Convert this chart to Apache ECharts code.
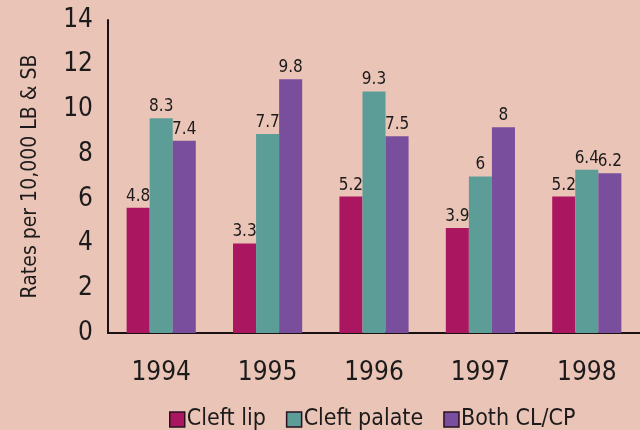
<!DOCTYPE html>
<html>
<head>
<meta charset="utf-8">
<script src="https://cdn.jsdelivr.net/npm/echarts@6/dist/echarts.min.js"></script>
<style>
html,body{margin:0;padding:0;background:#eac5b7;}
#c{width:640px;height:430px;}
</style>
</head>
<body>
<div id="c"></div>
<script>
// Categories
var years = ['1994', '1995', '1996', '1997', '1998'];
var seriesNames = ['Cleft lip', 'Cleft palate', 'Both CL/CP'];
// Printed value labels
var cleftLipLabels = [4.8, 3.3, 5.2, 3.9, 5.2];
var cleftPalateLabels = [8.3, 7.7, 9.3, 6, 6.4];
var bothLabels = [7.4, 9.8, 7.5, 8, 6.2];
// Bar heights as drawn against the axis in the picture
var cleftLipBars = [5.6, 4.0, 6.1, 4.7, 6.1];
var cleftPalateBars = [9.6, 8.9, 10.8, 7.0, 7.3];
var bothBars = [8.6, 11.35, 8.8, 9.2, 7.15];
// Axis ticks
var yMin = 0, yMax = 14, yStep = 2;

var colors = ['#aa1660', '#5d9d98', '#794f9d'];
var fontNarrow = '"Liberation Sans Narrow", "DejaVu Sans Condensed", sans-serif';
var textColor = '#1c1a1a';

function mkSeries(i, bars, labels) {
  return {
    name: seriesNames[i],
    type: 'bar',
    data: bars,
    barGap: '0%',
    barCategoryGap: '35%',
    itemStyle: { color: colors[i] },
    label: {
      show: true,
      position: 'top',
      distance: 3,
      color: textColor,
      fontFamily: fontNarrow,
      fontSize: 17,
      formatter: function (p) { return String(labels[p.dataIndex]); }
    }
  };
}

var chart = echarts.init(document.getElementById('c'), null, { renderer: 'canvas' });
chart.setOption({
  backgroundColor: '#eac5b7',
  animation: false,
  grid: { left: 108, right: 0, top: 20, bottom: 97, containLabel: false },
  legend: {
    left: 164,
    top: 403,
    itemWidth: 15,
    itemHeight: 15,
    itemGap: 20,
    selectedMode: false,
    textStyle: { color: textColor, fontFamily: fontNarrow, fontSize: 23, padding: [0, 0, 0, -3] },
    data: seriesNames.map(function (n, i) {
      return { name: n, icon: 'rect', itemStyle: { color: colors[i], borderColor: '#2a1020', borderWidth: 1.5 } };
    })
  },
  xAxis: {
    type: 'category',
    data: years,
    axisLine: { show: true, lineStyle: { color: '#1a1212', width: 2 } },
    axisTick: { show: false },
    axisLabel: { color: textColor, fontFamily: fontNarrow, fontSize: 26, margin: 27 }
  },
  yAxis: {
    type: 'value',
    min: yMin,
    max: yMax,
    interval: yStep,
    name: 'Rates per 10,000 LB & SB',
    nameLocation: 'middle',
    nameGap: 67,
    nameTextStyle: { color: textColor, fontFamily: fontNarrow, fontSize: 21 },
    axisLine: { show: true, lineStyle: { color: '#1a1212', width: 2 } },
    axisTick: { show: false },
    splitLine: { show: false },
    axisLabel: { color: textColor, fontFamily: fontNarrow, fontSize: 26, margin: 15, padding: [7, 0, 0, 0] }
  },
  series: [
    mkSeries(0, cleftLipBars, cleftLipLabels),
    mkSeries(1, cleftPalateBars, cleftPalateLabels),
    mkSeries(2, bothBars, bothLabels)
  ]
});
</script>
</body>
</html>
